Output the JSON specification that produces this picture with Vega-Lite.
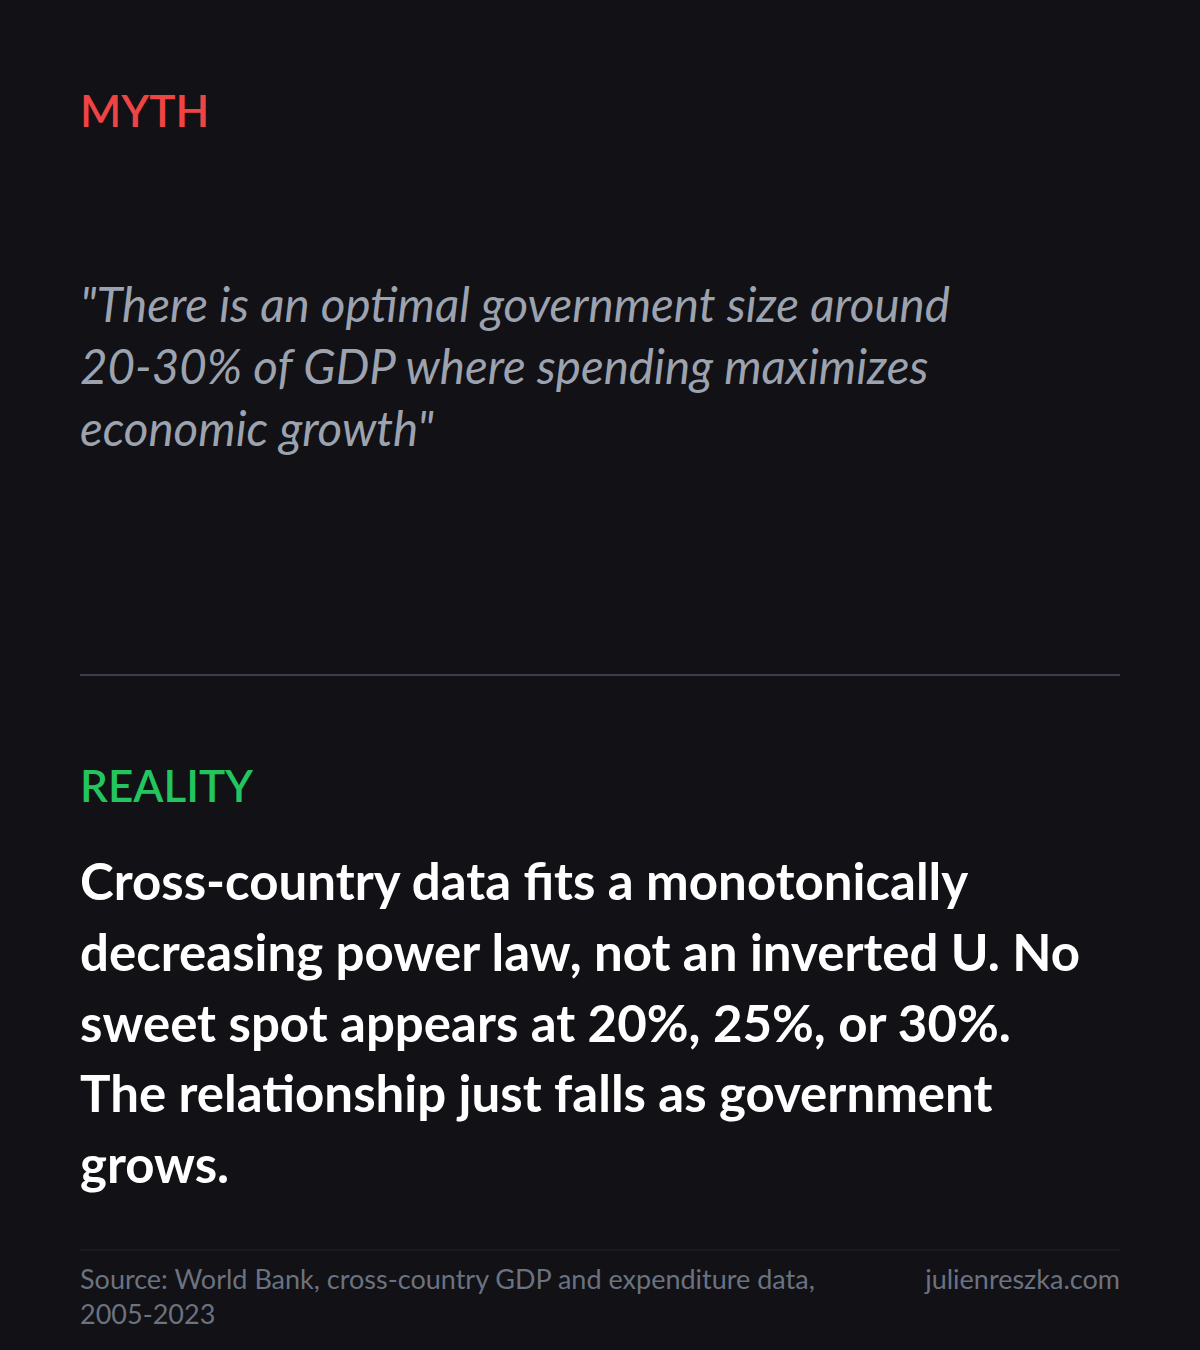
{
  "$schema": "https://vega.github.io/schema/vega-lite/v6.json",
  "width": 1200,
  "height": 1350,
  "autosize": {"type": "fit", "contains": "padding"},
  "padding": 0,
  "background": "#111116",
  "config": {"view": {"stroke": null}, "font": "Lato"},
  "datasets": {
    "labels": [
      {"section": "myth", "side": "left", "text": "MYTH"},
      {"section": "reality", "side": "left", "text": "REALITY"}
    ],
    "quote": [
      {"line": 1, "side": "left", "text": "\"There is an optimal government size around"},
      {"line": 2, "side": "left", "text": "20-30% of GDP where spending maximizes"},
      {"line": 3, "side": "left", "text": "economic growth\""}
    ],
    "body": [
      {"line": 1, "side": "left", "text": "Cross-country data fits a monotonically"},
      {"line": 2, "side": "left", "text": "decreasing power law, not an inverted U. No"},
      {"line": 3, "side": "left", "text": "sweet spot appears at 20%, 25%, or 30%."},
      {"line": 4, "side": "left", "text": "The relationship just falls as government"},
      {"line": 5, "side": "left", "text": "grows."}
    ],
    "source": [
      {"line": 1, "side": "left", "text": "Source: World Bank, cross-country GDP and expenditure data,"},
      {"line": 2, "side": "left", "text": "2005-2023"}
    ],
    "site": [
      {"line": 1, "side": "right", "text": "julienreszka.com"}
    ],
    "rules": [
      {"rule": "divider"},
      {"rule": "footer"}
    ]
  },
  "encoding": {
    "x": {
      "field": "side",
      "type": "nominal",
      "axis": null,
      "scale": {"type": "point", "domain": ["left", "right"], "range": [80, 1120], "padding": 0}
    }
  },
  "layer": [
    {
      "data": {"name": "rules"},
      "mark": {"type": "rule"},
      "encoding": {
        "x": {"datum": "left"},
        "x2": {"datum": "right"},
        "y": {
          "field": "rule",
          "type": "nominal",
          "axis": null,
          "scale": {"type": "point", "domain": ["divider", "footer"], "range": [675, 1250], "padding": 0}
        },
        "color": {
          "field": "rule",
          "type": "nominal",
          "legend": null,
          "scale": {"domain": ["divider", "footer"], "range": ["#3a3f4b", "#1f2431"]}
        },
        "strokeWidth": {
          "field": "rule",
          "type": "ordinal",
          "legend": null,
          "scale": {"domain": ["divider", "footer"], "range": [2, 1]}
        }
      }
    },
    {
      "data": {"name": "labels"},
      "mark": {"type": "text", "align": "left", "baseline": "alphabetic", "fontSize": 44, "fontWeight": 600},
      "encoding": {
        "text": {"field": "text"},
        "y": {
          "field": "section",
          "type": "nominal",
          "axis": null,
          "scale": {"type": "point", "domain": ["myth", "reality"], "range": [127, 802], "padding": 0}
        },
        "color": {
          "field": "section",
          "type": "nominal",
          "legend": null,
          "scale": {"domain": ["myth", "reality"], "range": ["#ef4444", "#22c55e"]}
        }
      }
    },
    {
      "data": {"name": "quote"},
      "mark": {"type": "text", "align": "left", "baseline": "alphabetic", "fontSize": 47.5, "fontStyle": "italic", "color": "#9ca3af"},
      "encoding": {
        "text": {"field": "text"},
        "y": {
          "field": "line",
          "type": "quantitative",
          "axis": null,
          "scale": {"domain": [1, 3], "range": [322, 446], "zero": false, "nice": false}
        }
      }
    },
    {
      "data": {"name": "body"},
      "mark": {"type": "text", "align": "left", "baseline": "alphabetic", "fontSize": 51, "fontWeight": "bold", "color": "#ffffff"},
      "encoding": {
        "text": {"field": "text"},
        "y": {
          "field": "line",
          "type": "quantitative",
          "axis": null,
          "scale": {"domain": [1, 5], "range": [900, 1183], "zero": false, "nice": false}
        }
      }
    },
    {
      "data": {"name": "source"},
      "mark": {"type": "text", "align": "left", "baseline": "alphabetic", "fontSize": 27, "color": "#6b7280"},
      "encoding": {
        "text": {"field": "text"},
        "y": {
          "field": "line",
          "type": "quantitative",
          "axis": null,
          "scale": {"domain": [1, 2], "range": [1289, 1324], "zero": false, "nice": false}
        }
      }
    },
    {
      "data": {"name": "site"},
      "mark": {"type": "text", "align": "right", "baseline": "alphabetic", "fontSize": 27, "color": "#6b7280"},
      "encoding": {
        "text": {"field": "text"},
        "y": {
          "field": "line",
          "type": "quantitative",
          "axis": null,
          "scale": {"domain": [1, 2], "range": [1289, 1324], "zero": false, "nice": false}
        }
      }
    }
  ],
  "resolve": {"scale": {"y": "independent", "color": "independent", "strokeWidth": "independent"}}
}
